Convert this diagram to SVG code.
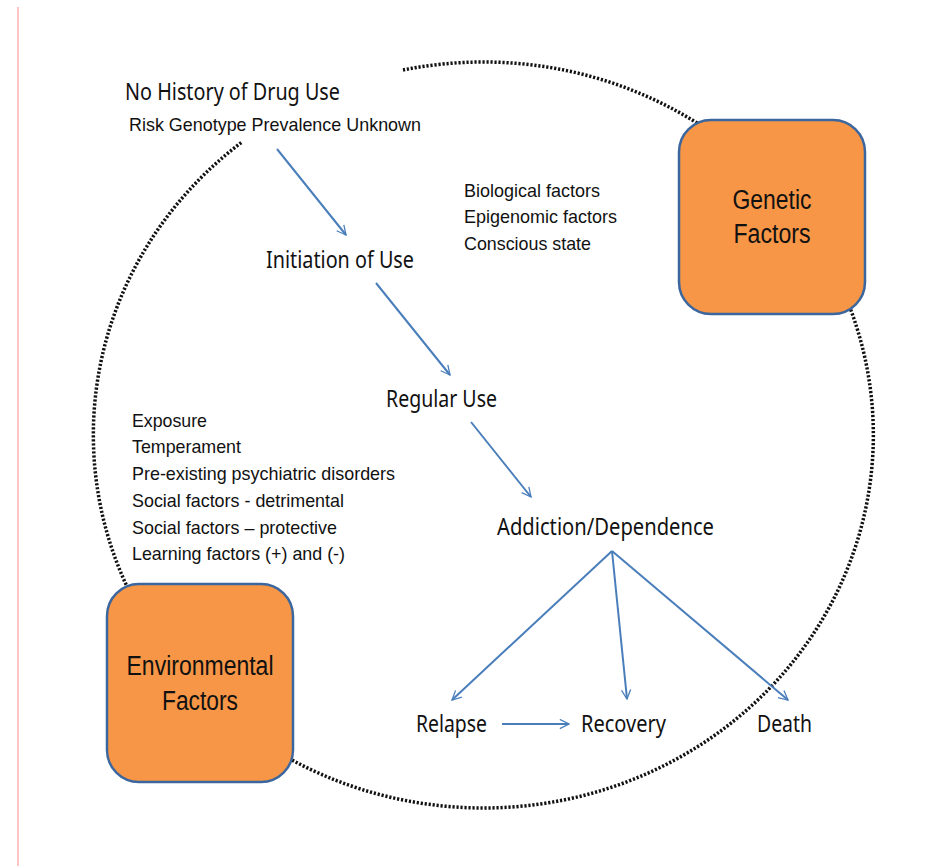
<svg xmlns="http://www.w3.org/2000/svg" width="933" height="866" viewBox="0 0 933 866">
<style>
.c{font-family:"Noto Sans","Open Sans",sans-serif;font-size:23px;fill:#111}
.a{font-family:"Liberation Sans",Arial,sans-serif;font-size:19px;fill:#111}
.b{font-family:"Liberation Sans",Arial,sans-serif;font-size:27px;fill:#111;text-anchor:middle}
.box{fill:#f79646;stroke:#3b679e;stroke-width:2.5}
.arr{stroke:#4a7ebb;stroke-width:2;fill:none;marker-end:url(#ah)}
</style>
<defs>
<marker id="ah" viewBox="0 0 12 12" refX="11" refY="6" markerWidth="11" markerHeight="11" markerUnits="userSpaceOnUse" orient="auto">
<path d="M1,1 L11,6 L1,11" fill="none" stroke="#4a7ebb" stroke-width="1.4"/>
</marker>
</defs>
<rect width="933" height="866" fill="#fff"/>
<line x1="18" y1="7" x2="18" y2="866" stroke="#ff8a8a" stroke-width="1"/>
<path id="cycle" d="M403,70 A390,373 0 1 1 242,142" fill="none" stroke="#111" stroke-width="3.5" stroke-dasharray="2.2 1.8"/>
<g id="connectors">
<line class="arr" x1="277" y1="149" x2="346" y2="235"/>
<line class="arr" x1="376" y1="283" x2="450" y2="375"/>
<line class="arr" x1="471" y1="422" x2="531" y2="497"/>
<line class="arr" x1="612" y1="551" x2="452" y2="700"/>
<line class="arr" x1="612" y1="551" x2="627" y2="699"/>
<line class="arr" x1="612" y1="551" x2="788" y2="700"/>
<line class="arr" x1="502" y1="724" x2="569" y2="724"/>
</g>
<g id="genetic">
<rect class="box" x="679" y="120" width="186" height="194" rx="32"/>
<text class="b" x="772" y="209" textLength="79" lengthAdjust="spacingAndGlyphs">Genetic</text>
<text class="b" x="772" y="243" textLength="77" lengthAdjust="spacingAndGlyphs">Factors</text>
</g>
<g id="environmental">
<rect class="box" x="107" y="584" width="186" height="198" rx="32"/>
<text class="b" x="200" y="675" textLength="147" lengthAdjust="spacingAndGlyphs">Environmental</text>
<text class="b" x="200" y="710" textLength="76" lengthAdjust="spacingAndGlyphs">Factors</text>
</g>
<g id="no-history">
<text class="c" x="125" y="100" textLength="215" lengthAdjust="spacingAndGlyphs">No History of Drug Use</text>
<text class="a" x="129" y="131" textLength="292" lengthAdjust="spacingAndGlyphs">Risk Genotype Prevalence Unknown</text>
</g>
<g id="initiation"><text class="c" x="266" y="268" textLength="148" lengthAdjust="spacingAndGlyphs">Initiation of Use</text></g>
<g id="regular"><text class="c" x="386" y="407" textLength="111" lengthAdjust="spacingAndGlyphs">Regular Use</text></g>
<g id="addiction"><text class="c" x="497" y="535" textLength="217" lengthAdjust="spacingAndGlyphs">Addiction/Dependence</text></g>
<g id="relapse"><text class="c" x="416" y="732" textLength="71" lengthAdjust="spacingAndGlyphs">Relapse</text></g>
<g id="recovery"><text class="c" x="581" y="732" textLength="85" lengthAdjust="spacingAndGlyphs">Recovery</text></g>
<g id="death"><text class="c" x="757" y="732" textLength="55" lengthAdjust="spacingAndGlyphs">Death</text></g>
<g id="bio-list">
<text class="a" x="464" y="197" textLength="136" lengthAdjust="spacingAndGlyphs">Biological factors</text>
<text class="a" x="464" y="223" textLength="153" lengthAdjust="spacingAndGlyphs">Epigenomic factors</text>
<text class="a" x="464" y="250" textLength="127" lengthAdjust="spacingAndGlyphs">Conscious state</text>
</g>
<g id="env-list">
<text class="a" x="132" y="427" textLength="75" lengthAdjust="spacingAndGlyphs">Exposure</text>
<text class="a" x="132" y="453" textLength="109" lengthAdjust="spacingAndGlyphs">Temperament</text>
<text class="a" x="132" y="480" textLength="263" lengthAdjust="spacingAndGlyphs">Pre-existing psychiatric disorders</text>
<text class="a" x="132" y="507" textLength="212" lengthAdjust="spacingAndGlyphs">Social factors - detrimental</text>
<text class="a" x="132" y="534" textLength="205" lengthAdjust="spacingAndGlyphs">Social factors – protective</text>
<text class="a" x="132" y="560" textLength="213" lengthAdjust="spacingAndGlyphs">Learning factors (+) and (-)</text>
</g>
</svg>
